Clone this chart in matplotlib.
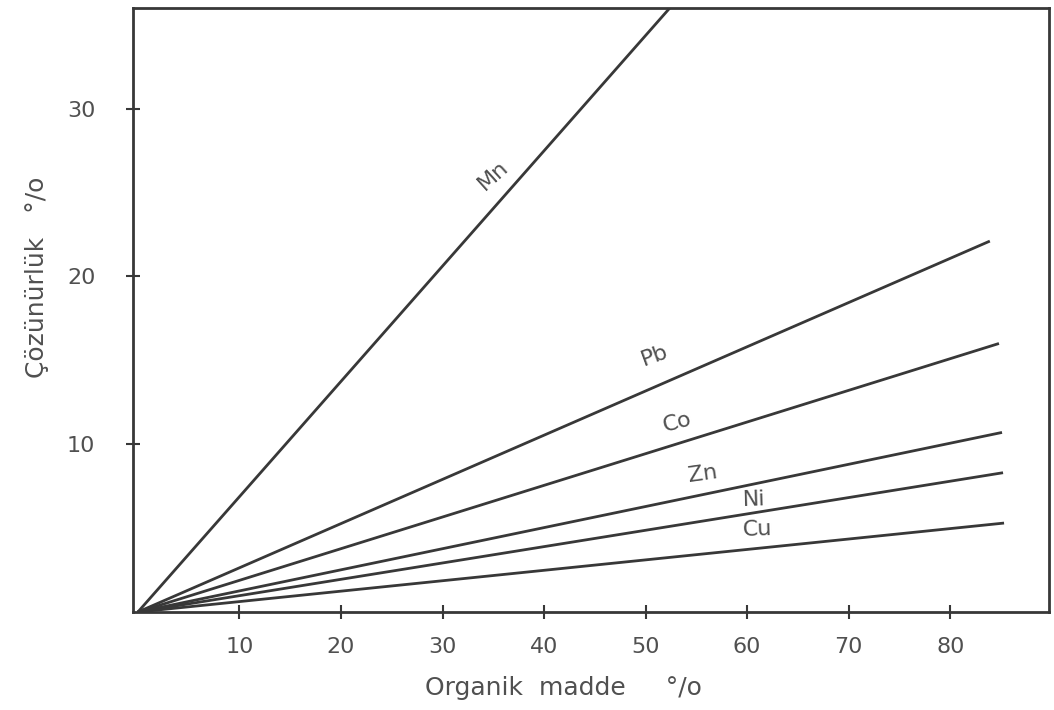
import numpy as np
import matplotlib
matplotlib.use('Agg')
from matplotlib import pyplot as plt

# solubility (%) vs organic matter (%)
elements = ['Mn', 'Pb', 'Co', 'Zn', 'Ni', 'Cu']
x_start = [0, 0, 0, 0, 0, 0]
y_start = [0, 0, 0, 0, 0, 0]
x_end = [52.4, 83.9, 84.8, 85.1, 85.2, 85.3]
y_end = [36.0, 22.1, 16.0, 10.7, 8.3, 5.3]

# label anchor positions (data units) and text angle
label_x = [35.0, 50.9, 53.1, 55.6, 60.7, 61.0]
label_y = [26.0, 15.3, 11.3, 8.2, 6.7, 4.9]
label_rot = [42, 20, 15, 8, 2, 2]

x_ticks = [10, 20, 30, 40, 50, 60, 70, 80]
y_ticks = [10, 20, 30]

ink = '#383838'
txt = '#505050'

fig = plt.figure(figsize=(10.54, 7.10), dpi=100)
ax = fig.add_axes([0.126, 0.138, 0.869, 0.851])

for i, el in enumerate(elements):
    ax.plot([x_start[i], x_end[i]], [y_start[i], y_end[i]], color=ink, lw=2.0,
            solid_capstyle='butt')
    ax.text(label_x[i], label_y[i], el, fontsize=16, color=txt,
            rotation=label_rot[i], ha='center', va='center')

ax.set_xlim(-0.5, 89.7)
ax.set_ylim(0, 36.0)
ax.set_xticks(x_ticks)
ax.set_yticks(y_ticks)
ax.tick_params(direction='inout', length=10, width=1.5, color=ink,
               labelsize=16, labelcolor=txt)
ax.tick_params(axis='x', pad=13)
ax.tick_params(axis='y', pad=22)
for s in ax.spines.values():
    s.set_color(ink)
    s.set_linewidth(2.0)

ax.text(0.47, -0.125, 'Organik  madde     °/o', transform=ax.transAxes,
        fontsize=18, color=txt, ha='center', va='center')
fig.text(0.035, 0.61, 'Çözünürlük   °/o', fontsize=18, color=txt,
         rotation=90, ha='center', va='center')

fig.savefig('out.png', dpi=100)
